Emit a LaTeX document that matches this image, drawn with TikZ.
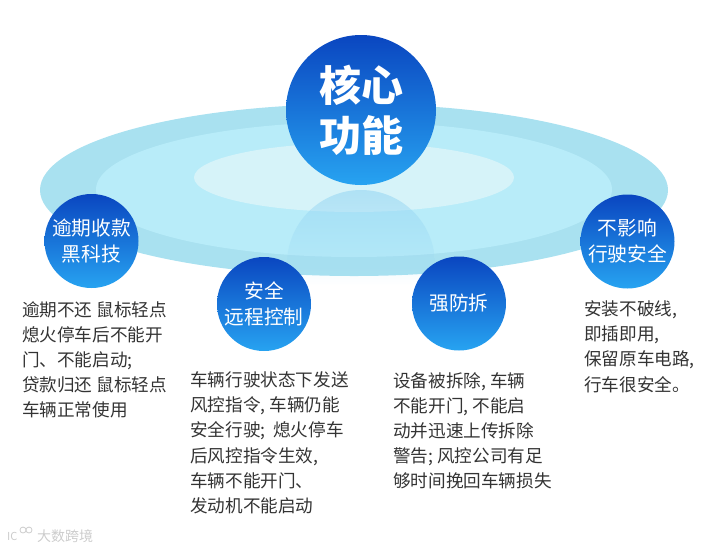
\documentclass[tikz,border=0pt]{standalone}
\usepackage{fontspec}
\setmainfont{Noto Sans CJK SC}
\usetikzlibrary{fadings}
\definecolor{ringA}{HTML}{A9E1F0}
\definecolor{ringB}{HTML}{B8ECF9}
\definecolor{ringC}{HTML}{D6F3F9}
\definecolor{ballT}{HTML}{0A46C0}
\definecolor{ballB}{HTML}{27A3F1}
\definecolor{body}{HTML}{333333}
\tikzfading[name=domefade,top color=transparent!40,bottom color=transparent!100]
\tikzset{
 x=1pt,y=-1pt,
 ball/.style={circle,minimum size=94pt,inner sep=0pt,top color=ballT,bottom color=ballB,text=white,align=center,font=\fontsize{19.7}{26}\selectfont},
 bigball/.style={ball,minimum size=150pt,font=\fontsize{42}{50}\selectfont\bfseries},
 desc/.style={anchor=north west,inner sep=0pt,text=body,align=left,font=\fontsize{17.6}{25.2}\selectfont},
}
\begin{document}
\begin{tikzpicture}
\useasboundingbox (0,0) rectangle (707,550);
\fill[ringA] (354,190) ellipse [x radius=314,y radius=86];
\fill[ringB] (354,189.5) ellipse [x radius=258,y radius=67.5];
\fill[ringC] (354,177.5) ellipse [x radius=160,y radius=34.5];
\begin{scope}
\clip (361,264) circle (74);
\fill[ringA!65!ballB!80!white,path fading=domefade] (287,190) rectangle (435,285);
\end{scope}
\node[bigball] (core) at (361,110) {核心\\功能};
\node[ball] (a) at (91.5,241) {逾期收款\\黑科技};
\node[ball] (b) at (264,304) {安全\\远程控制};
\node[ball] (c) at (459,303.5) {强防拆};
\node[ball] (d) at (627.5,241.5) {不影响\\行驶安全};
\node[desc] (ta) at (22,301) {逾期不还 鼠标轻点\\熄火停车后不能开\\门、不能启动;\\贷款归还 鼠标轻点\\车辆正常使用};
\node[desc] (tb) at (190,371.5) {车辆行驶状态下发送\\风控指令, 车辆仍能\\安全行驶;\ \ 熄火停车\\后风控指令生效,\\车辆不能开门、\\发动机不能启动};
\node[desc] (tc) at (393,372) {设备被拆除, 车辆\\不能开门, 不能启\\动并迅速上传拆除\\警告; 风控公司有足\\够时间挽回车辆损失};
\node[desc] (td) at (584,300.5) {安装不破线,\\即插即用,\\保留原车电路,\\行车很安全。};
\node[anchor=west,inner sep=0pt,text=black!20,font=\fontsize{14}{14}\selectfont] (wm) at (37,536) {大数跨境};
\node[anchor=west,inner sep=0pt,text=black!20,font=\fontsize{11}{11}\selectfont] (wl) at (7,536) {IC};
\draw[black!20,line width=.8pt] (23,530) circle (3) (29,530) circle (3);
\end{tikzpicture}
\end{document}
